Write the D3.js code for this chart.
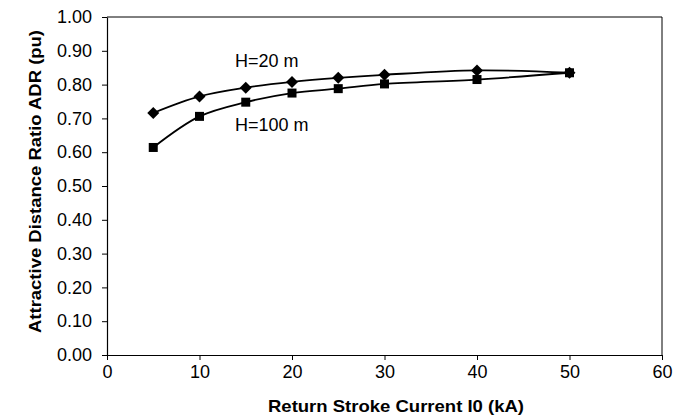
<!DOCTYPE html>
<html>
<head>
<meta charset="utf-8">
<script src="https://cdn.jsdelivr.net/npm/d3@7"></script>
<style>
  body { margin: 0; background: #fff; }
  text { font-family: "Liberation Sans", Arial, sans-serif; fill: #000; }
</style>
</head>
<body>
<div class="chart"></div>
<script>
// Data
var current = [5, 10, 15, 20, 25, 30, 40, 50];
var adrH20 = [0.716, 0.765, 0.791, 0.808, 0.820, 0.829, 0.842, 0.835];
var adrH100 = [0.614, 0.706, 0.748, 0.775, 0.788, 0.802, 0.815, 0.835];
var xTicks = [0, 10, 20, 30, 40, 50, 60];
var yTicks = [0, 0.1, 0.2, 0.3, 0.4, 0.5, 0.6, 0.7, 0.8, 0.9, 1.0];

var svgWidth = 686;
var svgHeight = 419;

var margin = { top: 17, right: 24, bottom: 64, left: 107 };
var width = svgWidth - margin.left - margin.right;
var height = svgHeight - margin.top - margin.bottom;

var svg = d3.select(".chart")
    .append("svg")
    .attr("width", svgWidth)
    .attr("height", svgHeight);

var chartGroup = svg.append("g")
    .attr("transform", `translate(${margin.left}, ${margin.top})`);

var xScale = d3.scaleLinear().domain([0, 60]).range([0, width]);
var yScale = d3.scaleLinear().domain([0, 1]).range([height, 0]);

// frame (top and right edges)
chartGroup.append("path")
    .attr("d", `M0,0H${width}V${height}`)
    .attr("fill", "none")
    .attr("stroke", "#000")
    .attr("stroke-width", 1);

var bottomAxis = d3.axisBottom(xScale).tickValues(xTicks).tickSize(5).tickSizeOuter(0).tickPadding(5);
var leftAxis = d3.axisLeft(yScale).tickValues(yTicks).tickSize(5).tickSizeOuter(0).tickPadding(10)
    .tickFormat(d3.format(".2f"));

var xAxis = chartGroup.append("g")
    .attr("transform", `translate(0, ${height})`)
    .call(bottomAxis);

var yAxis = chartGroup.append("g")
    .call(leftAxis);

[xAxis, yAxis].forEach(function (ax) {
    ax.selectAll("text").style("font-size", "18px").attr("fill", "#000");
    ax.selectAll("line").attr("stroke", "#000");
    ax.select(".domain").attr("stroke", "#000").attr("stroke-width", 1.2);
});

var line = d3.line()
    .x(d => xScale(d[0]))
    .y(d => yScale(d[1]))
    .curve(d3.curveCatmullRom.alpha(0.5));

var s20 = current.map((c, i) => [c, adrH20[i]]);
var s100 = current.map((c, i) => [c, adrH100[i]]);

chartGroup.append("path")
    .datum(s20)
    .attr("d", line)
    .attr("fill", "none")
    .attr("stroke", "#000")
    .attr("stroke-width", 1.8);

chartGroup.append("path")
    .datum(s100)
    .attr("d", line)
    .attr("fill", "none")
    .attr("stroke", "#000")
    .attr("stroke-width", 1.8);

// markers
chartGroup.selectAll(".diamond")
    .data(s20)
    .enter()
    .append("path")
    .attr("class", "diamond")
    .attr("transform", d => `translate(${xScale(d[0])}, ${yScale(d[1])})`)
    .attr("d", "M0,-6L6,0L0,6L-6,0Z")
    .attr("fill", "#000");

chartGroup.selectAll(".square")
    .data(s100)
    .enter()
    .append("rect")
    .attr("class", "square")
    .attr("x", d => xScale(d[0]) - 4.5)
    .attr("y", d => yScale(d[1]) - 4.5)
    .attr("width", 9)
    .attr("height", 9)
    .attr("fill", "#000");

// series labels
chartGroup.append("text")
    .attr("x", 235 - margin.left)
    .attr("y", 67 - margin.top)
    .style("font-size", "18px")
    .text("H=20 m");

chartGroup.append("text")
    .attr("x", 235 - margin.left)
    .attr("y", 131 - margin.top)
    .style("font-size", "18px")
    .text("H=100 m");

// axis titles
svg.append("text")
    .attr("x", 268)
    .attr("y", 412)
    .attr("textLength", 256)
    .attr("lengthAdjust", "spacingAndGlyphs")
    .style("font-size", "17px")
    .style("font-weight", "bold")
    .text("Return Stroke Current I0 (kA)");

svg.append("text")
    .attr("transform", "translate(41, 333) rotate(-90)")
    .attr("textLength", 303)
    .attr("lengthAdjust", "spacingAndGlyphs")
    .style("font-size", "16px")
    .style("font-weight", "bold")
    .text("Attractive Distance Ratio ADR (pu)");
</script>
</body>
</html>
